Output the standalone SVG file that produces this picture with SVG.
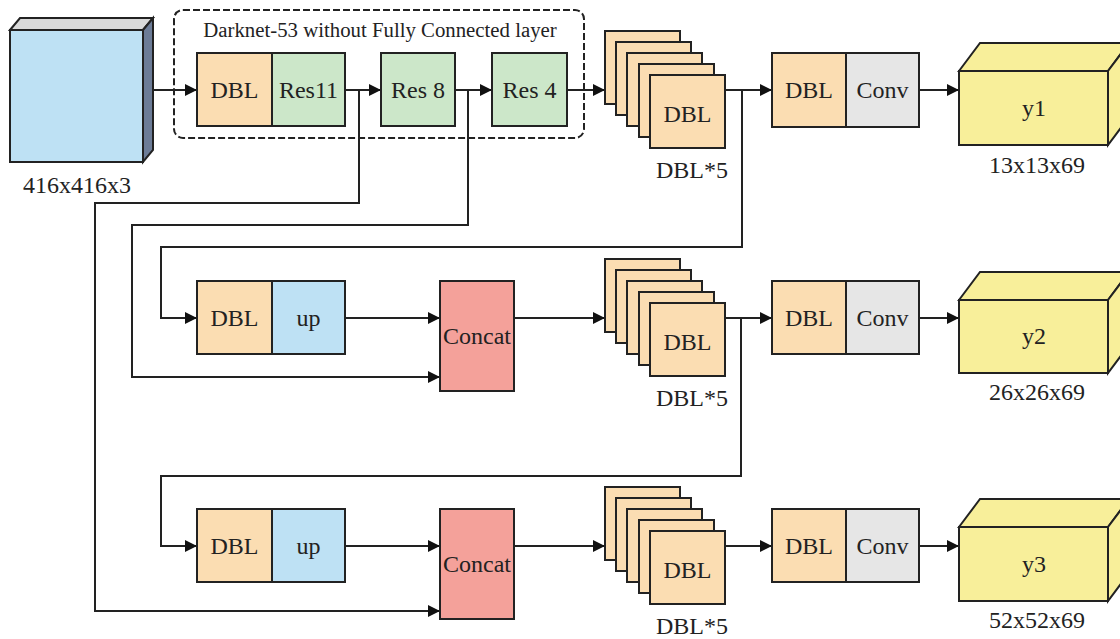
<svg xmlns="http://www.w3.org/2000/svg" width="1120" height="639" viewBox="0 0 1120 639">
<style>
.t{font-family:"Liberation Serif","Times New Roman",serif;font-size:24px;fill:#222;text-anchor:middle}
.ttl{font-family:"Liberation Serif","Times New Roman",serif;font-size:20.8px;fill:#222;text-anchor:middle}
.bx{stroke:#222;stroke-width:2}
.dbl{fill:#FBDDB2}
.res{fill:#CCE7C9}
.up{fill:#BEE1F4}
.cat{fill:#F4A19A}
.conv{fill:#E6E6E6}
.yel{fill:#F8EF9A}
.ln{fill:none;stroke:#222;stroke-width:2}
</style>
<defs>
<marker id="ah" markerUnits="userSpaceOnUse" markerWidth="12" markerHeight="12" viewBox="0 0 12 12" refX="12" refY="6" orient="auto">
<path d="M0,0 L12,6 L0,12 z" fill="#111"/>
</marker>
<g id="stackshape">
<rect class="bx dbl" x="0" y="0" width="75" height="73"/>
<rect class="bx dbl" x="11" y="11" width="75" height="73"/>
<rect class="bx dbl" x="22" y="22" width="75" height="73"/>
<rect class="bx dbl" x="34" y="33" width="75" height="73"/>
<rect class="bx dbl" x="45" y="44" width="75" height="73"/>
</g>
</defs>
<rect width="1120" height="639" fill="#fff"/>

<g id="connectors">
<line class="ln" x1="153" y1="90" x2="197" y2="90" marker-end="url(#ah)"/>
<line class="ln" x1="345" y1="90" x2="381" y2="90" marker-end="url(#ah)"/>
<line class="ln" x1="455" y1="90" x2="492" y2="90" marker-end="url(#ah)"/>
<line class="ln" x1="567" y1="90" x2="605" y2="90" marker-end="url(#ah)"/>
<line class="ln" x1="725" y1="90" x2="772" y2="90" marker-end="url(#ah)"/>
<line class="ln" x1="919" y1="90" x2="959" y2="90" marker-end="url(#ah)"/>
<polyline class="ln" points="359,90 359,203 95,203 95,611 440,611" marker-end="url(#ah)"/>
<polyline class="ln" points="468,90 468,225 132,225 132,377 440,377" marker-end="url(#ah)"/>
<polyline class="ln" points="742,90 742,247 161,247 161,318 197,318" marker-end="url(#ah)"/>
<line class="ln" x1="345" y1="318" x2="440" y2="318" marker-end="url(#ah)"/>
<line class="ln" x1="514" y1="318" x2="605" y2="318" marker-end="url(#ah)"/>
<line class="ln" x1="724" y1="318" x2="772" y2="318" marker-end="url(#ah)"/>
<line class="ln" x1="919" y1="318" x2="959" y2="318" marker-end="url(#ah)"/>
<polyline class="ln" points="741,318 741,476 161,476 161,546 197,546" marker-end="url(#ah)"/>
<line class="ln" x1="345" y1="546" x2="440" y2="546" marker-end="url(#ah)"/>
<line class="ln" x1="514" y1="546" x2="605" y2="546" marker-end="url(#ah)"/>
<line class="ln" x1="724" y1="546" x2="772" y2="546" marker-end="url(#ah)"/>
<line class="ln" x1="919" y1="546" x2="959" y2="546" marker-end="url(#ah)"/>
</g>

<g id="input">
<polygon class="bx" fill="#D9D9D9" points="10,30 20,18 153,18 143,30"/>
<polygon class="bx" fill="#6C7C97" points="143,30 153,18 153,150 143,162"/>
<rect class="bx" fill="#BEE1F4" x="10" y="30" width="133" height="132"/>
<text class="t" x="77" y="193">416x416x3</text>
</g>

<g id="darknet">
<rect x="174" y="10" width="410" height="128" rx="9" fill="none" stroke="#222" stroke-width="2" stroke-dasharray="7,3"/>
<text class="ttl" x="380" y="37">Darknet-53 without Fully Connected layer</text>
</g>

<g id="dbl-res11">
<rect class="bx dbl" x="197" y="53" width="75" height="73"/>
<rect class="bx res" x="272" y="53" width="73" height="73"/>
<text class="t" x="234.5" y="98">DBL</text>
<text class="t" x="308.5" y="98">Res11</text>
</g>
<g id="res8">
<rect class="bx res" x="381" y="53" width="74" height="73"/>
<text class="t" x="418" y="98">Res 8</text>
</g>
<g id="res4">
<rect class="bx res" x="492" y="53" width="75" height="73"/>
<text class="t" x="529.5" y="98">Res 4</text>
</g>

<g id="stack1">
<use href="#stackshape" x="605" y="31"/>
<text class="t" x="687.5" y="122">DBL</text>
<text class="t" x="692" y="178">DBL*5</text>
</g>
<g id="stack2">
<use href="#stackshape" x="605" y="259"/>
<text class="t" x="687.5" y="350">DBL</text>
<text class="t" x="692" y="406">DBL*5</text>
</g>
<g id="stack3">
<use href="#stackshape" x="605" y="487"/>
<text class="t" x="687.5" y="578">DBL</text>
<text class="t" x="692" y="634">DBL*5</text>
</g>

<g id="dblconv1">
<rect class="bx dbl" x="772" y="53" width="74" height="74"/>
<rect class="bx conv" x="846" y="53" width="73" height="74"/>
<text class="t" x="809" y="98">DBL</text>
<text class="t" x="882.5" y="98">Conv</text>
</g>
<g id="dblconv2">
<rect class="bx dbl" x="772" y="281" width="74" height="73"/>
<rect class="bx conv" x="846" y="281" width="73" height="73"/>
<text class="t" x="809" y="326">DBL</text>
<text class="t" x="882.5" y="326">Conv</text>
</g>
<g id="dblconv3">
<rect class="bx dbl" x="772" y="509" width="74" height="73"/>
<rect class="bx conv" x="846" y="509" width="73" height="73"/>
<text class="t" x="809" y="554">DBL</text>
<text class="t" x="882.5" y="554">Conv</text>
</g>

<g id="y1">
<polygon class="bx yel" points="959,71 980,43 1129,43 1108,71"/>
<polygon class="bx yel" points="1108,71 1129,43 1129,117 1108,145"/>
<rect class="bx yel" x="959" y="71" width="149" height="74"/>
<text class="t" x="1034" y="116">y1</text>
<text class="t" x="1037" y="173">13x13x69</text>
</g>
<g id="y2">
<polygon class="bx yel" points="959,300 980,272 1129,272 1108,300"/>
<polygon class="bx yel" points="1108,300 1129,272 1129,345 1108,373"/>
<rect class="bx yel" x="959" y="300" width="149" height="73"/>
<text class="t" x="1034" y="344">y2</text>
<text class="t" x="1037" y="400">26x26x69</text>
</g>
<g id="y3">
<polygon class="bx yel" points="959,527 980,499 1129,499 1108,527"/>
<polygon class="bx yel" points="1108,527 1129,499 1129,573 1108,601"/>
<rect class="bx yel" x="959" y="527" width="149" height="74"/>
<text class="t" x="1034" y="572">y3</text>
<text class="t" x="1037" y="628">52x52x69</text>
</g>

<g id="dblup2">
<rect class="bx dbl" x="197" y="281" width="75" height="73"/>
<rect class="bx up" x="272" y="281" width="73" height="73"/>
<text class="t" x="234.5" y="326">DBL</text>
<text class="t" x="308.5" y="326">up</text>
</g>
<g id="concat2">
<rect class="bx cat" x="440" y="281" width="74" height="110"/>
<text class="t" x="477" y="344">Concat</text>
</g>
<g id="dblup3">
<rect class="bx dbl" x="197" y="509" width="75" height="73"/>
<rect class="bx up" x="272" y="509" width="73" height="73"/>
<text class="t" x="234.5" y="554">DBL</text>
<text class="t" x="308.5" y="554">up</text>
</g>
<g id="concat3">
<rect class="bx cat" x="440" y="509" width="74" height="110"/>
<text class="t" x="477" y="572">Concat</text>
</g>
</svg>
